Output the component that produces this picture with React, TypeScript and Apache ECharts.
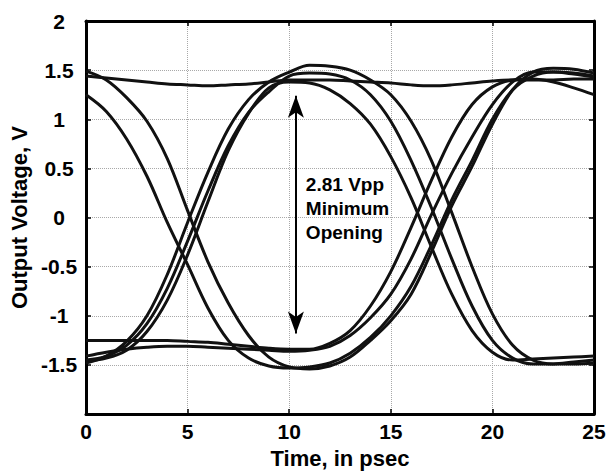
import React, { useEffect, useRef } from "react";
import * as echarts from "echarts";

// Time axis samples (psec)
const times = [0, 1, 2, 3, 4, 5, 6, 7, 8, 9, 10, 11, 12, 13, 14, 15, 16, 17, 18, 19, 20, 21, 22, 23, 24, 25];

// Output voltage traces (V), one value per time sample
const traceFlatHigh = [1.44, 1.42, 1.40, 1.38, 1.36, 1.35, 1.34, 1.35, 1.36, 1.38, 1.40, 1.40, 1.40, 1.39, 1.38, 1.37, 1.35, 1.34, 1.35, 1.37, 1.39, 1.40, 1.40, 1.40, 1.41, 1.41];
const traceRiseInner = [-1.46, -1.43, -1.35, -1.16, -0.84, -0.38, 0.16, 0.68, 1.06, 1.32, 1.38, 1.37, 1.30, 1.16, 0.95, 0.62, 0.20, -0.30, -0.78, -1.15, -1.37, -1.45, -1.44, -1.43, -1.42, -1.41];
const traceFallOuter = [1.49, 1.40, 1.22, 0.98, 0.60, 0.07, -0.45, -0.87, -1.20, -1.42, -1.52, -1.54, -1.51, -1.42, -1.25, -1.05, -0.78, -0.35, 0.12, 0.52, 0.95, 1.30, 1.48, 1.52, 1.51, 1.47];
const traceFallInner = [1.25, 1.08, 0.80, 0.42, -0.05, -0.48, -0.92, -1.25, -1.43, -1.51, -1.53, -1.52, -1.48, -1.38, -1.22, -1.00, -0.70, -0.28, 0.18, 0.58, 1.00, 1.30, 1.44, 1.48, 1.47, 1.44];
const traceFlatLow = [-1.25, -1.25, -1.25, -1.25, -1.25, -1.26, -1.27, -1.29, -1.31, -1.33, -1.34, -1.34, -1.28, -1.15, -0.90, -0.55, -0.10, 0.38, 0.82, 1.15, 1.33, 1.40, 1.41, 1.38, 1.32, 1.25];
const traceLowBump = [-1.41, -1.37, -1.34, -1.32, -1.31, -1.31, -1.32, -1.33, -1.34, -1.35, -1.36, -1.35, -1.31, -1.20, -1.02, -0.78, -0.42, 0.03, 0.45, 0.82, 1.15, 1.38, 1.48, 1.48, 1.46, 1.43];
const traceRiseOuter = [-1.48, -1.41, -1.26, -1.00, -0.58, -0.05, 0.46, 0.90, 1.20, 1.38, 1.48, 1.55, 1.54, 1.50, 1.40, 1.25, 0.98, 0.58, 0.05, -0.50, -0.98, -1.30, -1.45, -1.49, -1.49, -1.48];
const traceRiseMid = [-1.45, -1.41, -1.30, -1.08, -0.72, -0.24, 0.27, 0.73, 1.07, 1.28, 1.44, 1.47, 1.46, 1.40, 1.25, 0.98, 0.58, 0.10, -0.42, -0.90, -1.25, -1.43, -1.49, -1.49, -1.47, -1.45];

const traces = [traceFlatHigh, traceRiseInner, traceFallOuter, traceFallInner, traceFlatLow, traceLowBump, traceRiseOuter, traceRiseMid];

// Axis ticks
const xTicks = [0, 5, 10, 15, 20, 25];
const yTicks = [-2, -1.5, -1, -0.5, 0, 0.5, 1, 1.5, 2];

// Annotation (double arrow tips, in data units)
const arrowTime = 10.33;
const arrowTop = 1.24;
const arrowBottom = -1.18;
const noteAnchor = [10.55, 0.09];
const noteText = "2.81 Vpp\nMinimum\nOpening";

const FONT = "'Liberation Sans', Arial, Helvetica, sans-serif";

export default function App() {
  const ref = useRef<HTMLDivElement>(null);
  useEffect(() => {
    document.body.style.margin = "0";
    const chart = echarts.init(ref.current!, undefined, { renderer: "svg" });
    const axisLine = { show: true, onZero: false, lineStyle: { color: "#000", width: 3 } };
    const tickStyle = { show: true, inside: true, length: 5, lineStyle: { color: "#000", width: 1.5 } };
    const splitLine = { show: true, lineStyle: { color: "#a8a8a8", width: 1, type: "dotted" as const } };
    const labelStyle = { color: "#000", fontFamily: FONT, fontWeight: "bold" as const, fontSize: 21 };

    const lineSeries = traces.map((vals, i) => ({
      type: "line" as const,
      name: "trace" + i,
      data: times.map((t, j) => [t, vals[j]]),
      showSymbol: false,
      smooth: 0.35,
      lineStyle: { color: "#111", width: 3 },
      z: 3,
      silent: true,
    }));

    chart.setOption({
      animation: false,
      backgroundColor: "#fff",
      grid: { left: 81, right: 16, top: 21, bottom: 50, containLabel: false },
      xAxis: [
        {
          type: "value",
          min: xTicks[0],
          max: xTicks[xTicks.length - 1],
          interval: 5,
          position: "bottom",
          axisLine,
          axisTick: tickStyle,
          splitLine,
          axisLabel: { ...labelStyle, margin: 7 },
          name: "Time, in psec",
          nameLocation: "middle",
          nameGap: 28,
          nameTextStyle: { ...labelStyle, fontSize: 22 },
        },
        {
          type: "value",
          min: xTicks[0],
          max: xTicks[xTicks.length - 1],
          interval: 5,
          position: "top",
          axisLine,
          axisTick: tickStyle,
          splitLine: { show: false },
          axisLabel: { show: false },
        },
      ],
      yAxis: [
        {
          type: "value",
          min: yTicks[0],
          max: yTicks[yTicks.length - 1],
          interval: 0.5,
          position: "left",
          axisLine,
          axisTick: tickStyle,
          splitLine,
          axisLabel: {
            ...labelStyle,
            align: "center",
            margin: 27,
            formatter: (v: number) => (v === yTicks[0] ? "" : String(v)),
          },
          name: "Output Voltage, V",
          nameLocation: "middle",
          nameGap: 47,
          nameTextStyle: { ...labelStyle, fontSize: 22 },
        },
        {
          type: "value",
          min: yTicks[0],
          max: yTicks[yTicks.length - 1],
          interval: 0.5,
          position: "right",
          axisLine,
          axisTick: tickStyle,
          splitLine: { show: false },
          axisLabel: { show: false },
        },
      ],
      series: [
        ...lineSeries,
        {
          type: "line",
          data: [],
          silent: true,
          markLine: {
            silent: true,
            symbol: ["arrow", "arrow"],
            symbolSize: [12, 22],
            label: { show: false },
            lineStyle: { color: "#000", width: 2, type: "solid" },
            data: [[{ coord: [arrowTime, arrowTop] }, { coord: [arrowTime, arrowBottom] }]],
          },
          markPoint: {
            silent: true,
            symbol: "circle",
            symbolSize: 1,
            itemStyle: { color: "rgba(0,0,0,0)" },
            label: {
              show: true,
              position: "right",
              distance: 5,
              formatter: noteText,
              color: "#000",
              fontFamily: FONT,
              fontWeight: "bold",
              fontSize: 19,
              lineHeight: 24,
              align: "left",
            },
            data: [{ coord: noteAnchor }],
          },
        },
      ],
    });
    return () => chart.dispose();
  }, []);
  return <div ref={ref} style={{ width: 610, height: 474 }} />;
}
